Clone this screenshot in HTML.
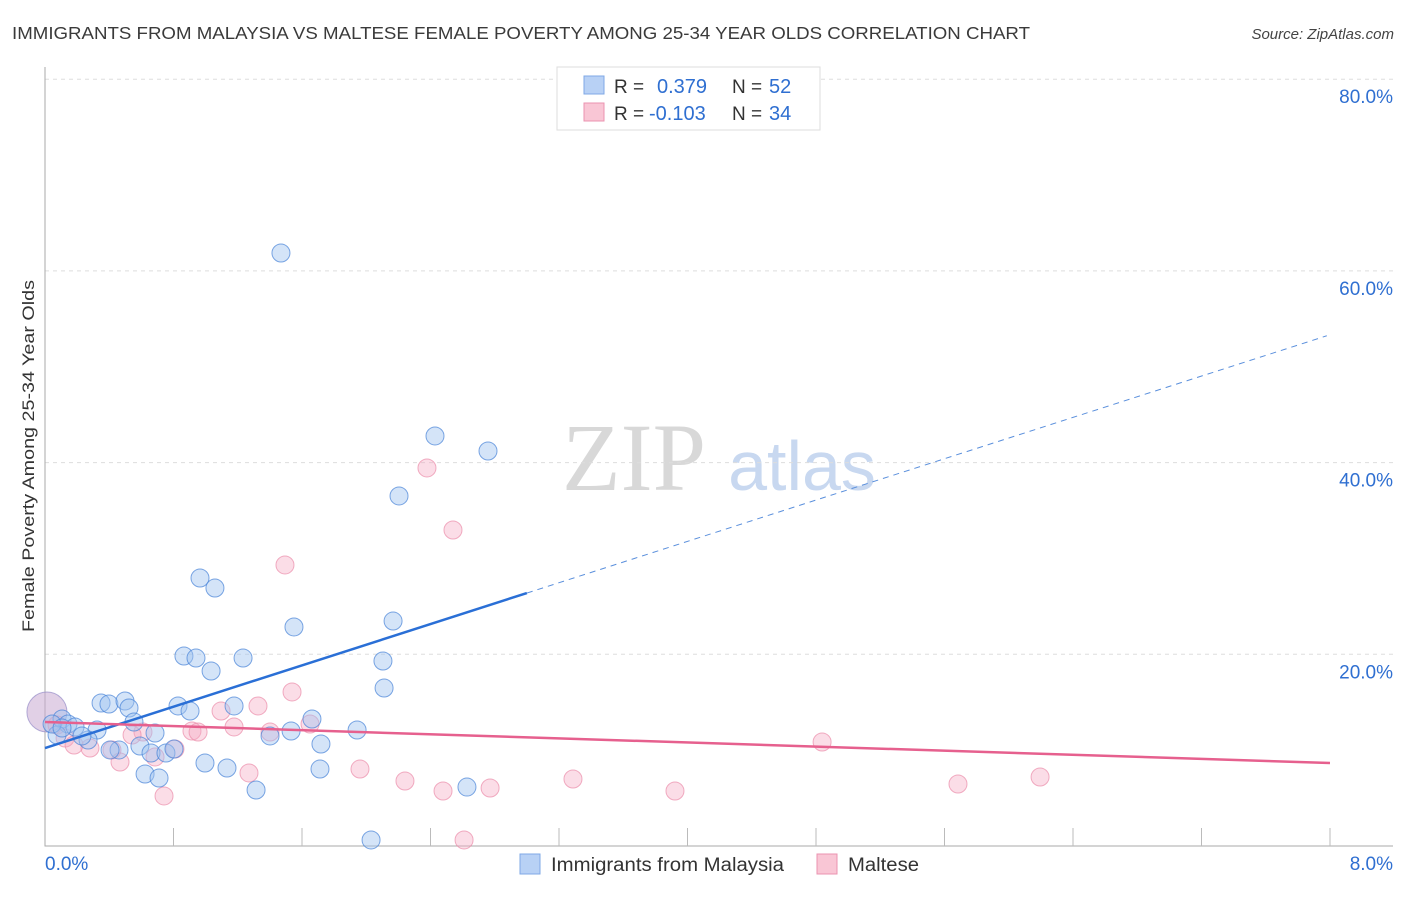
<!DOCTYPE html>
<html><head><meta charset="utf-8"><style>
body{margin:0;background:#fff;font-family:"Liberation Sans",sans-serif}
</style></head><body>
<svg id="chart" width="1406" height="892" xmlns="http://www.w3.org/2000/svg" font-family="Liberation Sans, sans-serif">
<text x="12" y="39" font-size="17.5" fill="#3a3a3a" textLength="1018" lengthAdjust="spacingAndGlyphs">IMMIGRANTS FROM MALAYSIA VS MALTESE FEMALE POVERTY AMONG 25-34 YEAR OLDS CORRELATION CHART</text>
<text x="1394" y="39" font-size="15" fill="#444" font-style="italic" text-anchor="end">Source: ZipAtlas.com</text>
<g>
<text x="634" y="490" font-family="Liberation Serif, serif" font-size="96" fill="#d8d8d8" text-anchor="middle">ZIP</text>
<text x="802" y="490" font-size="70" fill="#c8d8f0" text-anchor="middle">atlas</text>
</g>
<g id="grid"></g>
<g id="axes"></g>
<g id="pts"></g>
<g id="lines"></g>
<text transform="translate(34,456) rotate(-90)" font-size="17" fill="#333" text-anchor="middle" textLength="352" lengthAdjust="spacingAndGlyphs">Female Poverty Among 25-34 Year Olds</text>
<g>
<rect x="557" y="67" width="263" height="63" fill="#fff" stroke="#ddd"/>
<rect x="584" y="76" width="20" height="18" fill="#b8d1f5" stroke="#7fa8e6"/>
<rect x="584" y="103" width="20" height="18" fill="#f9c6d5" stroke="#eb93b0"/>
<text x="614" y="93" font-size="19" fill="#333">R =</text>
<text x="657" y="93" font-size="20" fill="#2f6fd1">0.379</text>
<text x="732" y="93" font-size="19" fill="#333">N =</text>
<text x="769" y="93" font-size="20" fill="#2f6fd1">52</text>
<text x="614" y="120" font-size="19" fill="#333">R =</text>
<text x="649" y="120" font-size="20" fill="#2f6fd1">-0.103</text>
<text x="732" y="120" font-size="19" fill="#333">N =</text>
<text x="769" y="120" font-size="20" fill="#2f6fd1">34</text>
</g>
<g>
<rect x="520" y="854" width="20" height="20" fill="#b8d1f5" stroke="#7fa8e6"/>
<text x="551" y="871" font-size="19" fill="#333" textLength="233" lengthAdjust="spacingAndGlyphs">Immigrants from Malaysia</text>
<rect x="817" y="854" width="20" height="20" fill="#f9c6d5" stroke="#eb93b0"/>
<text x="848" y="871" font-size="19" fill="#333" textLength="71" lengthAdjust="spacingAndGlyphs">Maltese</text>
</g>
</svg>
<script>
const yTicks=[20,40,60,80];
const yTickLabels=["20.0%","40.0%","60.0%","80.0%"];
const xTicks=[0,0.8,1.6,2.4,3.2,4,4.8,5.6,6.4,7.2,8];
const blueX=[1.469,2.428,2.758,2.204,0.965,1.058,1.550,2.167,0.865,0.940,1.233,2.104,1.034,2.111,0.349,0.398,0.498,0.523,0.828,0.903,1.177,1.662,0.554,0.106,0.143,0.187,0.324,0.685,1.401,1.532,1.943,1.718,0.268,0.075,0.230,0.591,0.461,0.660,0.753,0.803,0.996,1.133,1.712,0.623,0.710,1.314,2.627,2.030,0.044,0.405,0.106];
const blueY=[61.87,42.78,41.21,36.52,27.96,26.92,22.85,23.47,19.82,19.61,19.61,19.30,18.26,16.48,14.92,14.81,15.13,14.40,14.61,14.08,14.61,13.25,12.94,13.25,12.73,12.42,12.10,11.79,11.48,12.00,12.10,10.64,11.06,11.58,11.48,10.43,10.02,9.70,9.70,10.12,8.66,8.14,8.03,7.51,7.09,5.84,6.15,0.63,12.73,10.02,12.31];
const pinkX=[2.378,2.540,1.494,1.538,1.326,1.096,1.177,0.915,0.953,1.650,1.401,0.610,0.542,0.075,0.125,0.181,0.280,0.417,0.685,0.467,0.809,1.270,1.961,2.241,2.478,2.771,3.287,3.922,4.838,5.684,6.195,0.741,2.609];
const pinkY=[39.44,32.97,29.32,16.07,14.61,14.08,12.42,12.00,11.89,12.73,11.89,11.89,11.58,12.62,11.27,10.54,10.22,10.02,9.29,8.76,10.12,7.62,8.03,6.78,5.74,6.05,6.99,5.74,10.85,6.47,7.20,5.22,0.63];
const bigPoints=[[0.012,13.98]];
const blueTrend=[10.22,5.39], blueSolidEnd=3.0, blueDashEnd=7.98;
const pinkTrend=[12.94,-0.535];
const NS='http://www.w3.org/2000/svg';
const X=v=>45+v/8*1285, Y=v=>846-v/20*191.7;
function mk(p,t,a){const e=document.createElementNS(NS,t);for(const k in a)e.setAttribute(k,a[k]);document.getElementById(p).appendChild(e);return e;}
yTicks.forEach((t,i)=>{
 const g=mk('grid','line',{x1:45,x2:1393,y1:Y(t),y2:Y(t),stroke:'#ddd','stroke-dasharray':'4,4'});
 
 
 const l=mk('axes','text',{x:1393,y:Y(t)+24,'font-size':19,fill:'#2f6fd1','text-anchor':'end'});l.textContent=yTickLabels[i];
 
 
});
const ax=mk('axes','path',{d:'M45,67V846H1393',stroke:'#aaa',fill:'none'});


xTicks.slice(1).forEach(t=>{const e=mk('axes','line',{x1:X(t),x2:X(t),y1:828,y2:846,stroke:'#bbb'});
 
 });
const x0=mk('axes','text',{x:45,y:870,'font-size':19,fill:'#2f6fd1'});x0.textContent='0.0%';


const x8=mk('axes','text',{x:1393,y:870,'font-size':19,fill:'#2f6fd1','text-anchor':'end'});x8.textContent='8.0%';


bigPoints.forEach(p=>{
 const a=mk('pts','circle',{cx:X(p[0]),cy:Y(p[1]),r:20,fill:'rgba(200,170,210,0.55)',stroke:'rgba(150,140,200,0.7)'});
 
 
});
pinkX.forEach((v,i)=>{const c=mk('pts','circle',{cx:X(v),cy:Y(pinkY[i]),r:9,fill:'rgba(245,170,195,0.4)',stroke:'rgba(235,140,170,0.7)'});
 
 });
blueX.forEach((v,i)=>{const c=mk('pts','circle',{cx:X(v),cy:Y(blueY[i]),r:9,fill:'rgba(160,195,240,0.45)',stroke:'rgba(70,130,215,0.7)'});
 
 });
const f=(t,x)=>t[0]+t[1]*x;
const b1=mk('lines','line',{x1:X(0),y1:Y(f(blueTrend,0)),x2:X(blueSolidEnd),y2:Y(f(blueTrend,blueSolidEnd)),stroke:'#2a6fd6','stroke-width':2.5});


const b2=mk('lines','line',{x1:X(blueSolidEnd),y1:Y(f(blueTrend,blueSolidEnd)),x2:X(blueDashEnd),y2:Y(f(blueTrend,blueDashEnd)),stroke:'#5a8fdc','stroke-width':1,'stroke-dasharray':'6,5'});


const p1=mk('lines','line',{x1:X(0),y1:Y(f(pinkTrend,0)),x2:X(8),y2:Y(f(pinkTrend,8)),stroke:'#e6608e','stroke-width':2.5});


</script>
</body></html>
